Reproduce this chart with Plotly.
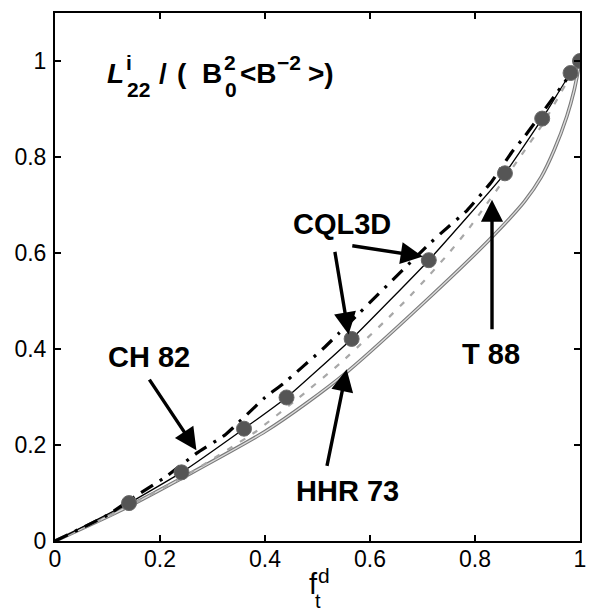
import plotly.graph_objects as go

# ---- data ----
cql3d_x = [0.141, 0.241, 0.360, 0.441, 0.565, 0.712, 0.857, 0.928, 0.982, 1.0]
cql3d_y = [0.079, 0.143, 0.234, 0.299, 0.421, 0.585, 0.766, 0.880, 0.975, 1.0]

fit_x = [0.0, 0.141, 0.241, 0.360, 0.441, 0.565, 0.712, 0.857, 0.928, 0.982, 1.0]
fit_y = [0.0, 0.079, 0.143, 0.234, 0.299, 0.421, 0.585, 0.766, 0.880, 0.975, 1.0]

ch82_x = [0.0, 0.10, 0.16, 0.21, 0.27, 0.325, 0.40, 0.435, 0.512, 0.54, 0.712, 0.735, 0.785, 0.832, 0.87, 0.894, 0.958, 1.0]
ch82_y = [0.0, 0.054, 0.098, 0.133, 0.183, 0.222, 0.299, 0.328, 0.402, 0.432, 0.618, 0.641, 0.689, 0.749, 0.81, 0.842, 0.937, 1.0]

t88_x = [0.0, 0.10, 0.241, 0.38, 0.465, 0.542, 0.593, 0.635, 0.669, 0.71, 0.752, 0.787, 0.819, 0.853, 0.889, 0.93, 0.985, 1.0]
t88_y = [0.0, 0.05, 0.131, 0.226, 0.299, 0.369, 0.421, 0.465, 0.502, 0.55, 0.602, 0.649, 0.697, 0.749, 0.805, 0.87, 0.975, 1.0]

hhr_x = [0.0, 0.122, 0.26, 0.40, 0.48, 0.556, 0.706, 0.825, 0.894, 0.926, 0.951, 0.975, 0.989, 1.0]
hhr_y = [0.0, 0.062, 0.142, 0.228, 0.288, 0.352, 0.50, 0.625, 0.707, 0.758, 0.815, 0.885, 0.94, 1.0]

x_ticks = [0, 0.2, 0.4, 0.6, 0.8, 1]
x_ticktext = ["0", "0.2", "0.4", "0.6", "0.8", "1"]
y_ticks = [0, 0.2, 0.4, 0.6, 0.8, 1]
y_ticktext = ["0", "0.2", "0.4", "0.6", "0.8", "1"]

FONT = "Liberation Sans, Arial, Helvetica, sans-serif"

W, H = 597, 614
L, R, T, B = 55, 11, 12, 73
PW, PH = W - L - R, H - T - B


def px(xp):
    return (xp - L) / PW


def py(yp):
    return (H - B - yp) / PH


fig = go.Figure()

# HHR 73 : gray double line
fig.add_trace(go.Scatter(x=hhr_x, y=hhr_y, mode="lines", line=dict(color="#7a7a7a", width=3.6, shape="spline", smoothing=0.7),
                         showlegend=False, hoverinfo="skip"))
fig.add_trace(go.Scatter(x=hhr_x, y=hhr_y, mode="lines", line=dict(color="#dcdcdc", width=1.4, shape="spline", smoothing=0.7),
                         showlegend=False, hoverinfo="skip"))
# T 88 : light gray dashed
fig.add_trace(go.Scatter(x=t88_x, y=t88_y, mode="lines", line=dict(color="#a8a8a8", width=2.2, dash="6px,9px", shape="spline", smoothing=0.4),
                         showlegend=False, hoverinfo="skip"))
# thin solid black through CQL3D
fig.add_trace(go.Scatter(x=fit_x, y=fit_y, mode="lines", line=dict(color="black", width=1.3, shape="spline", smoothing=0.4),
                         showlegend=False, hoverinfo="skip"))
# CH 82 : thick dash-dot
fig.add_trace(go.Scatter(x=ch82_x, y=ch82_y, mode="lines", line=dict(color="black", width=3.2, dash="14px,8px,3px,8px", shape="spline", smoothing=0.4),
                         showlegend=False, hoverinfo="skip"))
# CQL3D markers
fig.add_trace(go.Scatter(x=cql3d_x, y=cql3d_y, mode="markers",
                         marker=dict(size=15, color="#555555", line=dict(color="#6a6a6a", width=1)),
                         showlegend=False, hoverinfo="skip"))

ann = []


def text(xp, yp, s, size, anchor="center"):
    ann.append(dict(xref="paper", yref="paper", x=px(xp), y=py(yp), text=s, showarrow=False,
                    xanchor=anchor, yanchor="middle", font=dict(family=FONT, size=size, color="black")))


def arrow(tail, head):
    ann.append(dict(xref="paper", yref="paper", x=px(head[0]), y=py(head[1]), text="",
                    showarrow=True, axref="pixel", ayref="pixel",
                    ax=tail[0] - head[0], ay=tail[1] - head[1],
                    arrowhead=2, arrowsize=1.3, arrowwidth=3.4, arrowcolor="black", standoff=0))


# labels
text(150, 357, "<b>CH 82</b>", 29)
text(345, 223, "<b>CQL3D</b>", 29)
text(496, 354, "<b>T 88</b>", 29)
text(351, 491, "<b>HHR 73</b>", 29)

arrow((150, 378), (198, 450))
arrow((338, 250), (352, 334))
arrow((355, 245), (427, 256))
arrow((497, 330), (497, 199))
arrow((330, 467), (350, 369))

# title  L^i_22 / ( B^2_0 <B^-2> )
MAINY, SUPY, SUBY = 73, 62, 89
text(106, MAINY, "<b><i>L</i></b>", 28, "left")
text(125, SUPY, "<b>i</b>", 21, "left")
text(126, SUBY, "<b>22</b>", 21, "left")
text(158, MAINY, "<b>/</b>", 28, "left")
text(176, MAINY, "<b>(</b>", 28, "left")
text(202, MAINY, "<b>B</b>", 28, "left")
text(224, SUPY, "<b>2</b>", 21, "left")
text(225, SUBY, "<b>0</b>", 21, "left")
text(240, MAINY, "<b>&lt;B</b>", 28, "left")
text(278, SUPY, "<b>\u22122</b>", 21, "left")
text(309, MAINY, "<b>&gt;)</b>", 28, "left")

# x-axis title f^d_t
text(316, 584, "f", 29)
text(327, 576, "d", 21)
text(321, 601, "t", 20)

fig.update_layout(annotations=ann)

axis_common = dict(showgrid=False, zeroline=False, showline=True, linecolor="black", linewidth=2,
                   mirror="ticks", ticks="inside", ticklen=6, tickwidth=1.5, tickcolor="black",
                   tickfont=dict(family=FONT, size=23, color="black"))
fig.update_xaxes(range=[0, 1], tickvals=x_ticks, ticktext=x_ticktext, ticklabelstandoff=-4, **axis_common)
fig.update_yaxes(range=[0, 1.1], tickvals=y_ticks, ticktext=y_ticktext, ticklabelstandoff=2, **axis_common)

fig.update_layout(width=W, height=H, margin=dict(l=L, r=R, t=T, b=B),
                  plot_bgcolor="white", paper_bgcolor="white", showlegend=False)

fig.write_html("out.html", config={"displayModeBar": False},
               post_script="document.body.style.margin='0';document.body.style.padding='0';")
